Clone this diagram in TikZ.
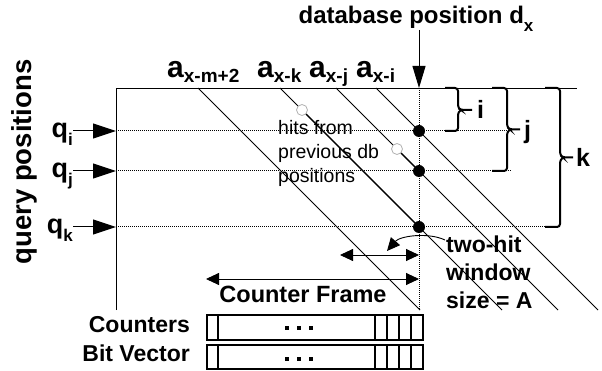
\documentclass[tikz,border=0pt]{standalone}
\usepackage{fontspec}
\setmainfont{Liberation Sans}
\usetikzlibrary{arrows.meta}
\newcommand\myfs[1]{\fontsize{#1}{#1}\selectfont}
\begin{document}
\begin{tikzpicture}[x=1pt,y=-1pt,
  thinline/.style={line width=0.85pt},
  dotline/.style={line width=1pt,dash pattern=on 1pt off 1pt},
  thickseg/.style={line width=1.4pt},
  bigarrow/.style={line width=1pt,-{Triangle[length=23pt,width=15pt]}},
  smallarrow/.style={line width=0.9pt,-{Triangle[length=13pt,width=12pt]}},
  dblarrow/.style={line width=0.9pt,{Triangle[length=13pt,width=12pt]}-{Triangle[length=13pt,width=12pt]}},
  bracepath/.style={line width=2pt,rounded corners=3pt},
  hit/.style={circle,fill=black,inner sep=0pt,minimum size=12pt},
  oldhit/.style={circle,draw=black!30,fill=white,line width=0.8pt,inner sep=0pt,minimum size=11pt},
  boldlbl/.style={inner sep=0pt,font=\bfseries\myfs{23}},
  boxline/.style={line width=2pt},
  dotsq/.style={fill=black,inner sep=0pt,minimum size=4pt},
]
\useasboundingbox (0,0) rectangle (602,371);

% frame
\coordinate (TL) at (116,88); \coordinate (TR) at (577,88); \coordinate (BL) at (116,310);
\coordinate (VT) at (419,88); \coordinate (VB) at (419,310); \coordinate (Dtop) at (419,30);
\draw[thinline] (BL) -- (TL) -- (TR);
\draw[dotline] (VT) -- (VB);

% query rows
\coordinate (Li) at (116,131); \coordinate (Ri) at (507,131);
\coordinate (Lj) at (116,171); \coordinate (Rj) at (512,171);
\coordinate (Lk) at (116,227); \coordinate (Rk) at (560,227);
\draw[dotline] (Li) -- (Ri);
\draw[dotline] (Lj) -- (Rj);
\draw[dotline] (Lk) -- (Rk);
\coordinate (Qi) at (73,131); \coordinate (Qj) at (73,171); \coordinate (Qk) at (73,227);
\draw[bigarrow] (Qi) -- (Li);
\draw[bigarrow] (Qj) -- (Lj);
\draw[bigarrow] (Qk) -- (Lk);
\node[anchor=base east,inner sep=0pt] (qi) at (73,138) {\bfseries\myfs{27}q\raisebox{-8pt}{\myfs{17}i}};
\node[anchor=base east,inner sep=0pt] (qj) at (73,178) {\bfseries\myfs{27}q\raisebox{-8pt}{\myfs{17}j}};
\node[anchor=base east,inner sep=0pt] (qk) at (73,234) {\bfseries\myfs{27}q\raisebox{-8pt}{\myfs{17}k}};
\node[rotate=90,inner sep=0pt] (qp) at (24,162) {\bfseries\myfs{27.5}query positions};

% database position
\node[anchor=base,inner sep=0pt] (db) at (416,24) {\bfseries\myfs{24}database position d\raisebox{-8pt}{\myfs{17}x}};
\draw[line width=1pt,-{Triangle[length=22pt,width=13pt]}] (Dtop) -- (VT);

% diagonals
\coordinate (A1t) at (198,88); \coordinate (A1b) at (420,310);
\coordinate (A2t) at (280,88); \coordinate (A2b) at (502,310);
\coordinate (A3t) at (336,88); \coordinate (A3b) at (558,310);
\coordinate (A4t) at (376,88); \coordinate (A4b) at (598,310);
\draw[thinline] (A1t) -- (A1b);
\draw[thinline] (A2t) -- (A2b);
\draw[thinline] (A3t) -- (A3b);
\draw[thinline] (A4t) -- (A4b);
\node[anchor=base west,inner sep=0pt] (a1) at (167,78) {\bfseries\myfs{30}a\raisebox{-5pt}{\myfs{19}x-m+2}};
\node[anchor=base west,inner sep=0pt] (a2) at (257,78) {\bfseries\myfs{30}a\raisebox{-5pt}{\myfs{19}x-k}};
\node[anchor=base west,inner sep=0pt] (a3) at (309,78) {\bfseries\myfs{30}a\raisebox{-5pt}{\myfs{19}x-j}};
\node[anchor=base west,inner sep=0pt] (a4) at (356,78) {\bfseries\myfs{30}a\raisebox{-5pt}{\myfs{19}x-i}};

% hits
\node[oldhit] (hk) at (302,110) {};
\node[oldhit] (hj) at (397,149) {};
\node[hit] (di) at (419,131) {};
\node[hit] (dj) at (419,171) {};
\node[hit] (dk) at (419,227) {};
\draw[thickseg] (hk) -- (dk);
\draw[thickseg] (hj) -- (dj);

\node[anchor=base west,inner sep=0pt] (h1) at (278,135) {\myfs{19.5}hits from};
\node[anchor=base west,inner sep=0pt] (h2) at (278,159) {\myfs{19.5}previous db};
\node[anchor=base west,inner sep=0pt] (h3) at (278,183) {\myfs{19.5}positions};

% braces
\draw[bracepath] (445,88) -- (458,88) -- (458,108) -- (461,110) -- (472,110);
\draw[bracepath] (461,110) -- (458,112) -- (458,131) -- (445,131);
\node[anchor=base west,inner sep=0pt] (bi) at (477,119) {\bfseries\myfs{25}i};
\draw[bracepath] (492,88) -- (507,88) -- (507,127) -- (510,129.5) -- (520,129.5);
\draw[bracepath] (510,129.5) -- (507,132) -- (507,171) -- (492,171);
\node[anchor=base west,inner sep=0pt] (bj) at (524,139) {\bfseries\myfs{25}j};
\draw[bracepath] (545,88) -- (560,88) -- (560,155) -- (563,157.5) -- (573,157.5);
\draw[bracepath] (563,157.5) -- (560,160) -- (560,227) -- (545,227);
\node[anchor=base west,inner sep=0pt] (bk) at (576,167) {\bfseries\myfs{25}k};

% two-hit window
\coordinate (W1) at (340,255); \coordinate (W2) at (419,255);
\draw[dblarrow] (W1) -- (W2);
\coordinate (C1) at (206,279); \coordinate (C2) at (419,279);
\draw[dblarrow] (C1) -- (C2);
\node[anchor=base,inner sep=0pt] (cf) at (303,302) {\bfseries\myfs{23.5}Counter Frame};
\node[anchor=base west,boldlbl] (t1) at (446,253) {two-hit};
\node[anchor=base west,boldlbl] (t2) at (446,280) {window};
\node[anchor=base west,boldlbl] (t3) at (446,308) {size = A};
\coordinate (Cs) at (445,240); \coordinate (Ce) at (387,251);
\draw[smallarrow] (Cs) .. controls (428,232) and (400,236) .. (Ce);

% counters and bit vector
\node[anchor=base east,boldlbl,font=\bfseries\myfs{23}] (lc) at (190,332) {Counters};
\node[anchor=base east,boldlbl,font=\bfseries\myfs{23}] (lb) at (190,361) {Bit Vector};
\foreach \yt/\yb in {315/340, 345/369} {
  \draw[boxline] (207,\yt) rectangle (423,\yb);
  \foreach \xx in {218,375,387,399,411} { \draw[boxline] (\xx,\yt) -- (\xx,\yb); }
}
\foreach \xx in {287,299,311} {
  \node[dotsq] at (\xx,328) {};
  \node[dotsq] at (\xx,359) {};
}
\end{tikzpicture}
\end{document}
